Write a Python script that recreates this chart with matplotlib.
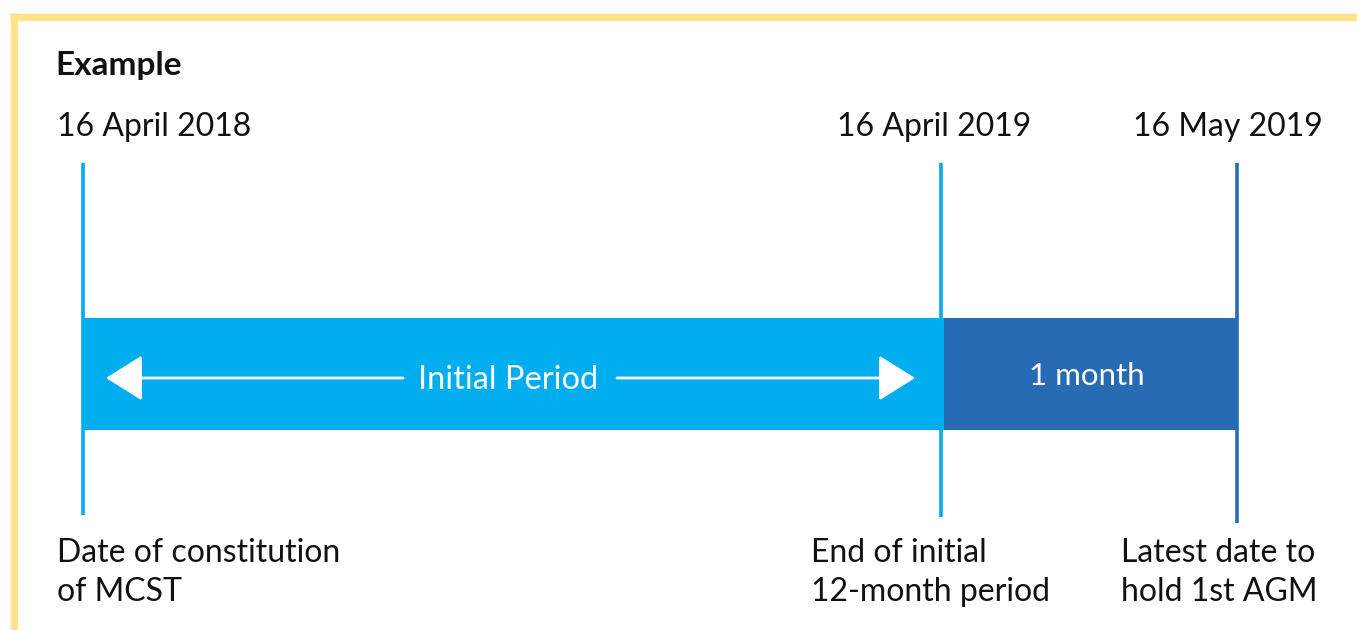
"""Timeline example: initial period and one-month window for the first AGM."""

import matplotlib

matplotlib.use("Agg")
import matplotlib.pyplot as plt

# Data
milestone_dates = ["16 April 2018", "16 April 2019", "16 May 2019"]
milestone_notes = [
    "Date of constitution\nof MCST",
    "End of initial\n12-month period",
    "Latest date to\nhold 1st AGM",
]
segment_labels = ["Initial Period", "1 month"]

# Layout (pixel space of a 1357x630 canvas)
W, H = 1357, 630
MILESTONE_X = [83, 941, 1237]
LINE_BOTTOM = [515, 517, 523]
LINE_TOP = 163
BAR_TOP, BAR_BOTTOM = 318, 430
LIGHT = "#00AEEF"
DARK = "#276BB5"
YELLOW = "#FFE28A"

plt.rcParams["font.family"] = ["Lato", "DejaVu Sans"]

fig = plt.figure(figsize=(W / 100, H / 100), dpi=100)
ax = fig.add_axes([0, 0, 1, 1])
ax.set_xlim(0, W)
ax.set_ylim(H, 0)
ax.axis("off")

# Yellow frame (top and left edges only)
ax.plot([10, W], [16.5, 16.5], color=YELLOW, lw=5.2, solid_capstyle="butt")
ax.plot([13.5, 13.5], [13, H], color=YELLOW, lw=5.2, solid_capstyle="butt")

ax.text(55, 66, "Example", fontsize=24, fontweight="bold", va="center", color="#111111")

# Bars
bar_colors = [LIGHT, DARK]
bar_mid = (BAR_TOP + BAR_BOTTOM) / 2
for i, (lab, col) in enumerate(zip(segment_labels, bar_colors)):
    x0 = MILESTONE_X[i] if i == 0 else MILESTONE_X[i] + 3
    x1 = MILESTONE_X[i + 1] + (3 if i == 0 else 1)
    ax.barh(bar_mid, x1 - x0, left=x0, height=BAR_BOTTOM - BAR_TOP, color=col, zorder=2)

# Vertical milestone lines
line_colors = [LIGHT, LIGHT, DARK]
for x, yb, col in zip(MILESTONE_X, LINE_BOTTOM, line_colors):
    ax.vlines(x, LINE_TOP, yb, color=col, lw=2.6, zorder=3)

# Dates above and notes below
date_x = [57, 837, 1133]
for x, d in zip(date_x, milestone_dates):
    ax.text(x, 127, d, fontsize=23, va="center", ha="left", color="#111111")
note_x = [57, 811, 1121]
for x, n in zip(note_x, milestone_notes):
    ax.text(x, 538, n, fontsize=23, va="top", ha="left", color="#111111", linespacing=1.37)

# Double-headed arrow with label inside the light bar
arrow_y = 378
style = "-|>,head_length=1.15,head_width=0.72"
ax.annotate("", xy=(106, arrow_y), xytext=(403, arrow_y),
            arrowprops=dict(arrowstyle=style, mutation_scale=20, color="white", lw=2, shrinkA=0, shrinkB=0),
            zorder=4)
ax.annotate("", xy=(915, arrow_y), xytext=(617, arrow_y),
            arrowprops=dict(arrowstyle=style, mutation_scale=20, color="white", lw=2, shrinkA=0, shrinkB=0),
            zorder=4)
ax.text(508, 380, segment_labels[0], fontsize=23.5, color="white",
        ha="center", va="center", zorder=4)
ax.text(1087, 376, segment_labels[1], fontsize=22.5, color="white",
        ha="center", va="center", zorder=4)

fig.savefig("out.png", dpi=100)
plt.close(fig)
